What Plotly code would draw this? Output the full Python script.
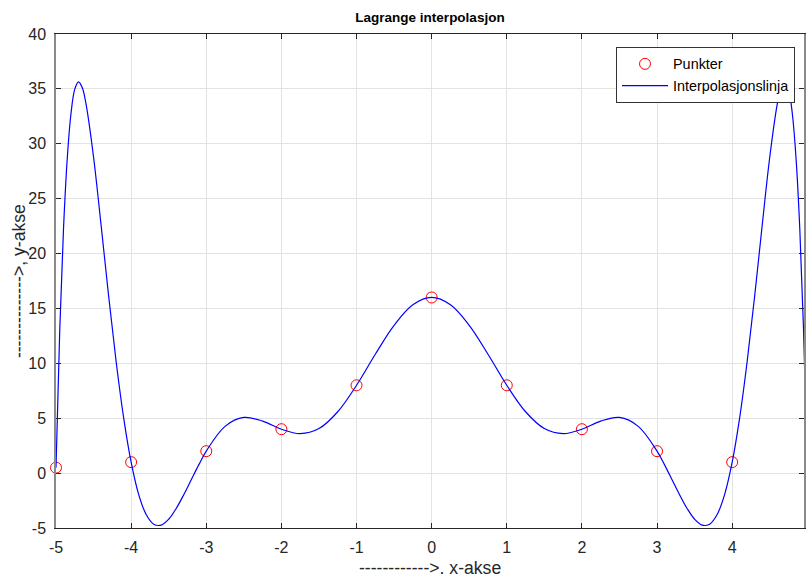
import plotly.graph_objects as go

# Data points (Punkter)
pt_x = [-5, -4, -3, -2, -1, 0, 1, 2, 3, 4, 5]
pt_y = [0.5, 1, 2, 4, 8, 16, 8, 4, 2, 1, 0.5]

# Interpolation curve values
curve_x = [-5, -4.95, -4.9, -4.85, -4.8, -4.75, -4.7, -4.65, -4.6, -4.5, -4.4, -4.3, -4.2, -4.1,
           -4, -3.9, -3.8, -3.7, -3.6, -3.5, -3.4, -3.3, -3.2, -3.1, -3, -2.75, -2.5, -2.25,
           -2, -1.75, -1.5, -1.25, -1, -0.75, -0.5, -0.25, 0,
           0.25, 0.5, 0.75, 1, 1.25, 1.5, 1.75, 2, 2.25, 2.5, 2.75, 3, 3.1, 3.2, 3.3, 3.4,
           3.5, 3.6, 3.7, 3.8, 3.9, 4, 4.1, 4.2, 4.3, 4.4, 4.5, 4.6, 4.65, 4.7, 4.75, 4.8,
           4.85, 4.9, 4.95, 5]
curve_y = [0.5, 13.05, 22.26, 28.68, 32.78, 34.98, 35.64, 35.10, 33.61, 28.77, 22.60, 16.17, 10.19, 5.06,
           1, -1.93, -3.77, -4.65, -4.74, -4.20, -3.22, -1.97, -0.61, 0.75, 2, 4.26, 5.07, 4.74,
           4, 3.60, 4.06, 5.59, 8, 10.83, 13.46, 15.33, 16,
           15.33, 13.46, 10.83, 8, 5.59, 4.06, 3.60, 4, 4.74, 5.07, 4.26, 2, 0.75, -0.61, -1.97, -3.22,
           -4.20, -4.74, -4.65, -3.77, -1.93, 1, 5.06, 10.19, 16.17, 22.60, 28.77, 33.61, 35.10, 35.64, 34.98, 32.78,
           28.68, 22.26, 13.05, 0.5]

x_ticks = [-5, -4, -3, -2, -1, 0, 1, 2, 3, 4, 5]
x_tick_text = ["-5", "-4", "-3", "-2", "-1", "0", "1", "2", "3", "4", "5"]
y_ticks = [-5, 0, 5, 10, 15, 20, 25, 30, 35, 40]
y_tick_text = ["-5", "0", "5", "10", "15", "20", "25", "30", "35", "40"]

FONT = "Liberation Sans, Arial, sans-serif"
AX = "#262626"

fig = go.Figure()
fig.add_trace(go.Scatter(
    x=pt_x, y=pt_y, mode="markers", name="Punkter",
    marker=dict(symbol="circle-open", size=11, color="#ff0000", line=dict(width=1, color="#ff0000")),
    cliponaxis=False,
))
fig.add_trace(go.Scatter(
    x=curve_x, y=curve_y, mode="lines", name="Interpolasjonslinja",
    line=dict(color="#0000ff", width=1.2, shape="spline", smoothing=1.0),
))

fig.update_layout(
    width=806, height=574,
    margin=dict(l=56, r=0, t=34, b=46),
    paper_bgcolor="white", plot_bgcolor="white",
    font=dict(family=FONT, size=16, color=AX),
    title=dict(text="<b>Lagrange interpolasjon</b>", x=0.5, xref="paper", xanchor="center",
               y=1 - 17 / 574, yref="container", yanchor="middle",
               font=dict(family=FONT, size=13.5, color="#000000")),
    showlegend=True,
    legend=dict(x=0.988, y=0.9737, xanchor="right", yanchor="top",
                bgcolor="white", bordercolor="#333333", borderwidth=1,
                font=dict(family=FONT, size=14.4, color="#000000"),
                tracegroupgap=0, itemwidth=46),
    xaxis=dict(range=[-5, 4.956], tickvals=x_ticks, ticktext=x_tick_text,
               showgrid=True, gridcolor="#e3e3e3", gridwidth=1,
               zeroline=False, showline=True, linecolor=AX, linewidth=1, mirror="ticks",
               ticks="inside", ticklen=5, tickcolor=AX, ticklabelstandoff=5,
               tickfont=dict(family=FONT, size=16, color=AX)),
    yaxis=dict(range=[-5, 40], tickvals=y_ticks, ticktext=y_tick_text,
               showgrid=True, gridcolor="#e3e3e3", gridwidth=1,
               zeroline=False, showline=True, linecolor="#8a8a8a", linewidth=1.5, mirror="ticks",
               ticks="inside", ticklen=5, tickcolor=AX, ticklabelstandoff=5,
               tickfont=dict(family=FONT, size=16, color=AX)),
    annotations=[
        dict(text="------------>, x-akse", xref="paper", yref="paper", x=0.5, y=(528 - 568) / 494,
             xanchor="center", yanchor="middle", showarrow=False,
             font=dict(family=FONT, size=17.6, color=AX)),
        dict(text="-------------->, y-akse", xref="paper", yref="paper", x=(19 - 56) / 750, y=0.5,
             xanchor="center", yanchor="middle", textangle=-90, showarrow=False,
             font=dict(family=FONT, size=17.6, color=AX)),
    ],
)

fig.write_html("out.html",
               config={"displayModeBar": False},
               post_script="document.body.style.margin='0';document.body.style.padding='0';"
                           "document.body.style.overflow='hidden';")
